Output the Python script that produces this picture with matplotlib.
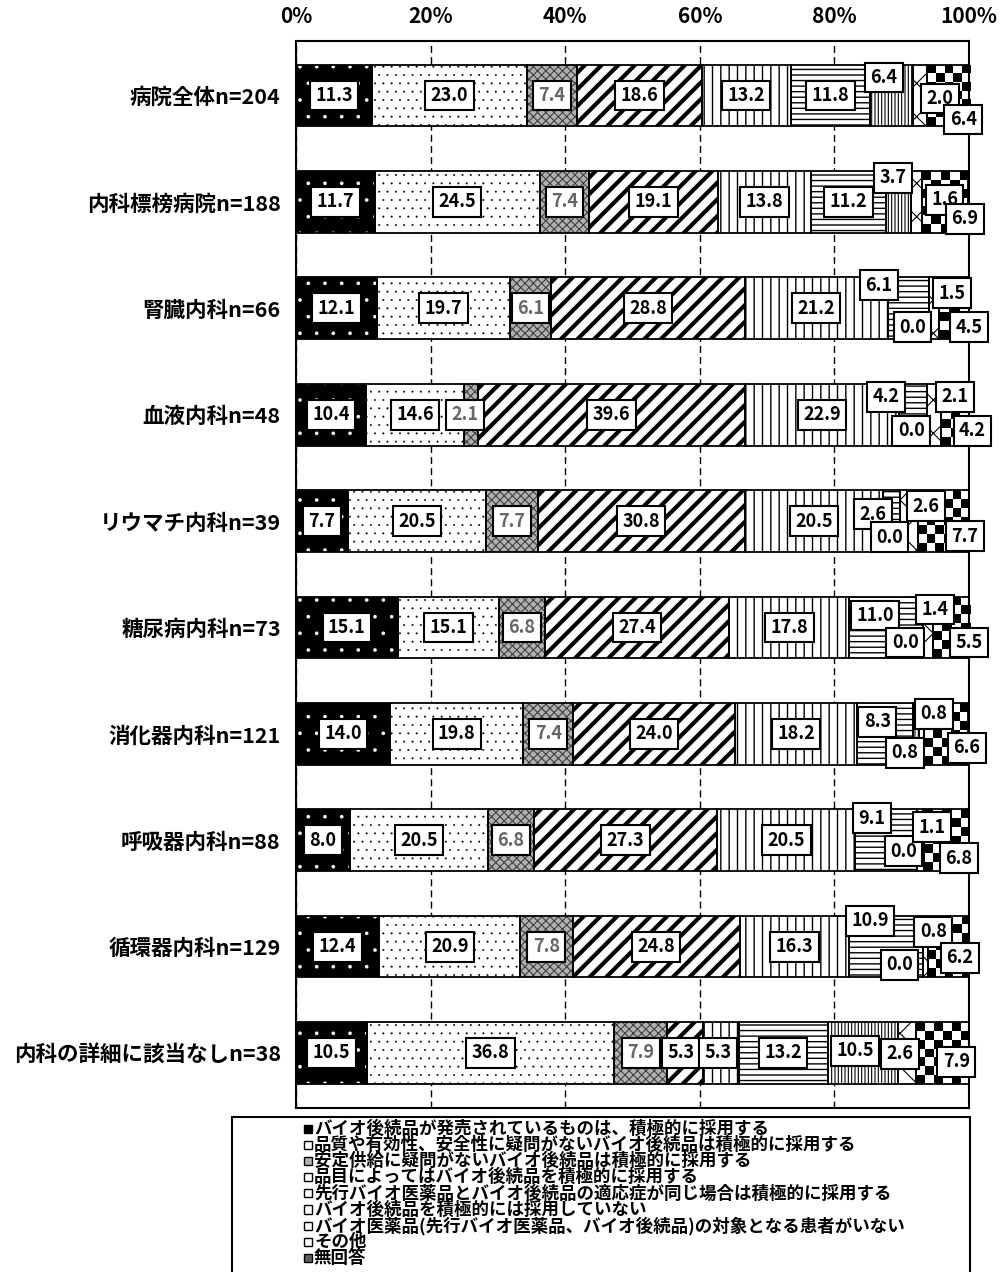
import numpy as np
import matplotlib.pyplot as plt
from matplotlib.patches import Rectangle

plt.rcParams['font.family'] = ['Noto Sans CJK JP', 'DejaVu Sans']
plt.rcParams['hatch.linewidth'] = 1.0

categories = ["病院全体n=204", "内科標榜病院n=188", "腎臓内科n=66", "血液内科n=48",
              "リウマチ内科n=39", "糖尿病内科n=73", "消化器内科n=121", "呼吸器内科n=88",
              "循環器内科n=129", "内科の詳細に該当なしn=38"]

series_names = ["バイオ後続品が発売されているものは、積極的に採用する",
                "品質や有効性、安全性に疑問がないバイオ後続品は積極的に採用する",
                "安定供給に疑問がないバイオ後続品は積極的に採用する",
                "品目によってはバイオ後続品を積極的に採用する",
                "先行バイオ医薬品とバイオ後続品の適応症が同じ場合は積極的に採用する",
                "バイオ後続品を積極的には採用していない",
                "バイオ医薬品(先行バイオ医薬品、バイオ後続品)の対象となる患者がいない",
                "その他",
                "無回答"]

hatsubai = [11.3, 11.7, 12.1, 10.4, 7.7, 15.1, 14.0, 8.0, 12.4, 10.5]
hinshitsu = [23.0, 24.5, 19.7, 14.6, 20.5, 15.1, 19.8, 20.5, 20.9, 36.8]
antei = [7.4, 7.4, 6.1, 2.1, 7.7, 6.8, 7.4, 6.8, 7.8, 7.9]
hinmoku = [18.6, 19.1, 28.8, 39.6, 30.8, 27.4, 24.0, 27.3, 24.8, 5.3]
tekiou = [13.2, 13.8, 21.2, 22.9, 20.5, 17.8, 18.2, 20.5, 16.3, 5.3]
not_adopted = [11.8, 11.2, 6.1, 4.2, 2.6, 11.0, 8.3, 9.1, 10.9, 13.2]
no_patient = [6.4, 3.7, 0.0, 0.0, 0.0, 0.0, 0.8, 0.0, 0.0, 10.5]
other = [2.0, 1.6, 1.5, 2.1, 2.6, 1.4, 0.8, 1.1, 0.8, 2.6]
no_answer = [6.4, 6.9, 4.5, 4.2, 7.7, 5.5, 6.6, 6.8, 6.2, 7.9]

values = [hatsubai, hinshitsu, antei, hinmoku, tekiou, not_adopted, no_patient, other, no_answer]

# fill, hatch colour, hatch, hatch linewidth
styles = [
    ('black', 'white', '.', 0.2),
    ('white', 'black', '..', 0.2),
    ('#b0b0b0', '#404040', 'xxxx', 0.8),
    ('white', 'black', '//', 3.0),
    ('white', 'black', '||', 1.0),
    ('white', 'black', '---', 1.0),
    ('white', 'black', '|||||', 0.8),
    ('white', 'black', 'x', 0.8),
    ('white', 'black', None, 1.0),
]

# nudges for the crowded labels (row, segment): (dx px, dy px down)
label_shift = {
    (0, 6): (-8, -18), (0, 7): (20, 3), (0, 8): (15, 24),
    (1, 6): (-6, -24), (1, 7): (28, -2), (1, 8): (20, 17),
    (2, 5): (-29, -23), (2, 6): (-16, 19), (2, 7): (18, -15), (2, 8): (15, 19),
    (3, 2): (-6, 0), (3, 5): (-27, -18), (3, 6): (-16, 16), (3, 7): (21, -18), (3, 8): (17, 16),
    (4, 5): (-19, -7), (4, 6): (-11, 16), (4, 7): (17, -15), (4, 8): (21, 15),
    (5, 5): (-11, -12), (5, 6): (-18, 15), (5, 7): (7, -18), (5, 8): (18, 15),
    (6, 5): (-8, -12), (6, 6): (-11, 19), (6, 7): (13, -20), (6, 8): (21, 14),
    (7, 5): (-14, -22), (7, 6): (-13, 11), (7, 7): (12, -13), (7, 8): (12, 18),
    (8, 5): (-16, -26), (8, 6): (-23, 18), (8, 7): (8, -15), (8, 8): (11, 11),
    (9, 3): (-4, 0), (9, 4): (-3, 0), (9, 6): (-8, -2), (9, 7): (-7, 1), (9, 8): (14, 9),
}

fig = plt.figure(figsize=(10, 12.72), dpi=100)
ax = fig.add_axes([0.296, 1 - 1108 / 1272, 0.673, (1108 - 41) / 1272])

y = np.arange(len(categories))
left = np.zeros(len(categories))
bar_h = 0.58
containers = []
for vals, (fc, hc, hatch, hlw) in zip(values, styles):
    bars = ax.barh(y, vals, left=left, height=bar_h, color=fc, edgecolor=hc,
                   hatch=hatch, linewidth=0, zorder=2)
    for b in bars:
        if hasattr(b, 'set_hatch_linewidth'):
            b.set_hatch_linewidth(hlw)
    ax.barh(y, vals, left=left, height=bar_h, fill=False, edgecolor='black',
            linewidth=1.3, zorder=3)
    containers.append(bars)
    left = left + np.array(vals)

ax.set_xlim(0, 100)
ax.set_ylim(9.517, -0.512)

# checkerboard for 無回答
for b in containers[8]:
    x0, w, y0, h = b.get_x(), b.get_width(), b.get_y(), b.get_height()
    if w <= 0:
        continue
    p0 = ax.transData.transform((x0, y0))
    p1 = ax.transData.transform((x0 + w, y0 + h))
    nx = max(1, int(round(abs(p1[0] - p0[0]) / 9)))
    ny = max(1, int(round(abs(p1[1] - p0[1]) / 9)))
    board = np.indices((ny, nx)).sum(axis=0) % 2
    im = ax.imshow(board, cmap='gray', vmin=0, vmax=1, extent=(x0, x0 + w, y0 + h, y0),
                   aspect='auto', interpolation='nearest', zorder=2.5)
    im.set_clip_path(b)
ax.set_xlim(0, 100)
ax.set_ylim(9.517, -0.512)

# value labels
for k, bars in enumerate(containers):
    for i, b in enumerate(bars):
        cx = b.get_x() + b.get_width() / 2
        dx, dy = label_shift.get((i, k), (0, 0))
        ax.annotate(f"{values[k][i]:.1f}", xy=(cx, i), xytext=(dx, -dy),
                    textcoords='offset pixels', ha='center', va='center',
                    fontsize=13, fontweight='bold',
                    color='#666666' if k == 2 else 'black',
                    bbox=dict(boxstyle='square,pad=0.3', fc='white', ec='black', lw=1.5),
                    zorder=6)

ax.set_yticks(y)
ax.set_yticklabels(categories, fontsize=15.5, fontweight='bold')
ax.xaxis.tick_top()
ax.set_xticks([0, 20, 40, 60, 80, 100])
ax.set_xticklabels([f"{t}%" for t in [0, 20, 40, 60, 80, 100]], fontsize=15, fontweight='bold')
ax.tick_params(axis='both', length=0)
ax.tick_params(axis='x', pad=10)
ax.tick_params(axis='y', pad=11)
ax.grid(axis='x', color='black', linestyle=(0, (5, 3)), linewidth=1)
ax.set_axisbelow(True)
for s in ax.spines.values():
    s.set_linewidth(1.5)

# legend box at the bottom
H = 1272
fig.add_artist(Rectangle((0.232, -0.05), 0.738, 0.05 + 1 - 1117 / H, transform=fig.transFigure,
                         fill=False, edgecolor='black', linewidth=1.5, clip_on=False))
for k, name in enumerate(series_names):
    yc = 1 - (1129 + k * 16.1) / H
    fc, hc, hatch, hlw = styles[k]
    fig.add_artist(Rectangle((0.304, yc - 0.0032), 0.008, 0.0064, transform=fig.transFigure,
                             facecolor='#606060' if k == 8 else fc, edgecolor='black',
                             linewidth=1.0, hatch=None))
    fig.text(0.314, yc, name, fontsize=12.6, fontweight='bold', va='center', ha='left')

fig.savefig("out.png", dpi=100)
